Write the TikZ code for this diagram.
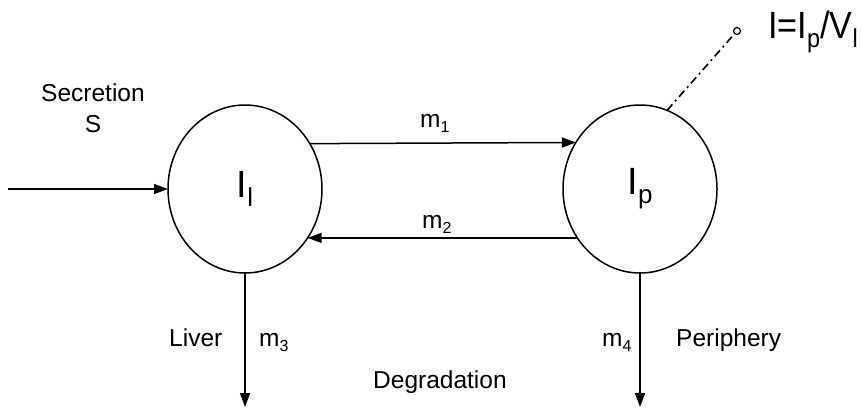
\documentclass[tikz,border=0pt]{standalone}
\usepackage{graphicx}
\usepackage{fontspec}
\setmainfont{Liberation Sans}
\usetikzlibrary{shapes.geometric,arrows.meta}
% subscripts for the compartment symbols and for the rate labels
\newcommand\bigsub[1]{\raisebox{-9pt}{\fontsize{26}{26}\selectfont #1}}
\newcommand\ratesub[1]{\raisebox{-5pt}{\fontsize{16}{16}\selectfont #1}}

\begin{document}
\begin{tikzpicture}[x=1pt,y=-1pt,
  compartment/.style={draw, ellipse, line width=1.5pt, minimum width=154pt,
    minimum height=168pt, inner sep=0pt, outer sep=0pt,
    font=\fontsize{38}{40}\selectfont},
  flow/.style={line width=1.5pt, -{Triangle[length=14pt,width=10pt]}},
  lbl/.style={font=\fontsize{24.5}{31}\selectfont, inner sep=0pt},
]
\useasboundingbox (0,0) rectangle (861,410);

% compartments: liver and periphery
\node[compartment] (L) at (245,189) {I\bigsub{l}};
\node[compartment] (P) at (640,189) {I\bigsub{p}};

% secretion into the liver
\coordinate (src) at (8,189);
\draw[flow] (src) -- (L.west);
\node[lbl, align=center, anchor=base] (sec) at (93,132) {Secretion\\S};

% exchange between compartments
\draw[flow] (L.35.5) -- (P.144.5);
\draw[flow] (P.-142) -- (L.-38);
\node[lbl, anchor=base west] (m1) at (420,127) {m\ratesub{1}};
\node[lbl, anchor=base west] (m2) at (422,228) {m\ratesub{2}};

% degradation
\coordinate (outL) at (245,407);
\coordinate (outP) at (640,407);
\draw[flow] (L.south) -- (outL);
\draw[flow] (P.south) -- (outP);
\node[lbl, anchor=base west] (liver) at (169,346) {Liver};
\node[lbl, anchor=base west] (m3) at (259,346) {m\ratesub{3}};
\node[lbl, anchor=base west] (m4) at (602,346) {m\ratesub{4}};
\node[lbl, anchor=base west] (peri) at (676,346) {Periphery};
\node[lbl, anchor=base west] (deg) at (373,388) {Degradation};

% measured concentration
\node[draw, circle, line width=1.2pt, minimum size=7pt, inner sep=0pt] (obs) at (737,31) {};
\draw[line width=1.6pt, dash pattern=on 8pt off 4pt on 2pt off 4pt] (P.71) -- (obs);
\node[anchor=base west, inner sep=0pt, font=\fontsize{38}{40}\selectfont] (conc) at (768,38)
  {\scalebox{0.9}[1]{I=I\bigsub{p}/V\bigsub{l}}};
\end{tikzpicture}
\end{document}
